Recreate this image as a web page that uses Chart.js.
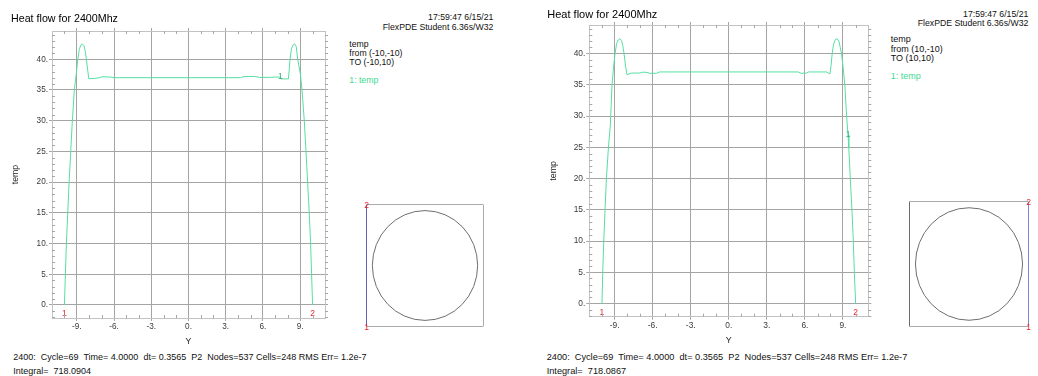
<!DOCTYPE html>
<html>
<head>
<meta charset="utf-8">
<title>Heat flow for 2400Mhz</title>
<script src="https://cdn.jsdelivr.net/npm/chart.js@4.4.1/dist/chart.umd.min.js"></script>
<style>
  html, body { margin: 0; padding: 0; background: #fff; }
  body { position: relative; width: 1038px; height: 376px; overflow: hidden;
         font-family: "Liberation Sans", Arial, sans-serif; color: #111; }
  .txt { position: absolute; white-space: pre; line-height: 1; }
  canvas { position: absolute; }
</style>
</head>
<body>
<canvas id="plotA" width="340" height="352" style="left:0px;top:0px"></canvas>
<canvas id="shapeA" width="138" height="144" style="left:356px;top:194px"></canvas>
<canvas id="plotB" width="340" height="352" style="left:537px;top:0px"></canvas>
<canvas id="shapeB" width="140" height="144" style="left:899px;top:191px"></canvas>

<!-- left plot: cut along x = -10 -->
<div class="txt" style="left:11px;top:12.9px;font-size:10.7px;color:#000">Heat flow for 2400Mhz</div>
<div class="txt" style="right:544.7px;top:12.6px;font-size:8.7px">17:59:47 6/15/21</div>
<div class="txt" style="right:544.7px;top:22.6px;font-size:8.7px">FlexPDE Student 6.36s/W32</div>
<div class="txt" style="left:349.3px;top:39.6px;font-size:8.7px">temp</div>
<div class="txt" style="left:349.3px;top:48.6px;font-size:8.7px">from (-10,-10)</div>
<div class="txt" style="left:349.3px;top:57.9px;font-size:8.7px">TO (-10,10)</div>
<div class="txt" style="left:349.3px;top:75.9px;font-size:8.7px;color:#3fd993">1: temp</div>
<div class="txt" style="left:13.3px;top:353.4px;font-size:9px">2400:  Cycle=69  Time= 4.0000  dt= 0.3565  P2  Nodes=537 Cells=248 RMS Err= 1.2e-7</div>
<div class="txt" style="left:13.3px;top:366.9px;font-size:9px">Integral=  718.0904</div>

<!-- right plot: cut along x = 10 -->
<div class="txt" style="left:547.3px;top:9px;font-size:11px;color:#000">Heat flow for 2400Mhz</div>
<div class="txt" style="right:9.7px;top:9.9px;font-size:8.7px">17:59:47 6/15/21</div>
<div class="txt" style="right:9.7px;top:18.6px;font-size:8.7px">FlexPDE Student 6.36s/W32</div>
<div class="txt" style="left:890.7px;top:35.4px;font-size:9px">temp</div>
<div class="txt" style="left:890.7px;top:44.7px;font-size:9px">from (10,-10)</div>
<div class="txt" style="left:890.7px;top:54.1px;font-size:9px">TO (10,10)</div>
<div class="txt" style="left:890.7px;top:72.4px;font-size:9px;color:#3fd993">1: temp</div>
<div class="txt" style="left:546.7px;top:353.2px;font-size:9.2px">2400:  Cycle=69  Time= 4.0000  dt= 0.3565  P2  Nodes=537 Cells=248 RMS Err= 1.2e-7</div>
<div class="txt" style="left:546.7px;top:366.7px;font-size:9.2px">Integral=  718.0867</div>

<script>
// ---- data -------------------------------------------------------------
// Position along the cut (Y) and temperature for the cut at x = -10
const cutPosA = [-10, -9.92, -9.84, -9.73, -9.62, -9.49, -9.36, -9.2, -9.04, -8.92,
                 -8.8, -8.68, -8.55, -8.42, -8.32, -8.23, -8.12, -8.04, -7.6, -7.2,
                 -6.9, -6.3, -6.0, -3.0, 0, 3.0, 4.2, 4.5, 5.4, 5.7,
                 6.6, 7.0, 7.41, 7.46, 8.05, 8.12, 8.18, 8.3, 8.42, 8.55,
                 8.68, 8.8, 9.01, 9.15, 9.33, 9.47, 9.6, 9.73, 9.84, 9.92, 10];
const tempA   = [0, 5, 10, 15, 20, 25, 30, 35, 37.7, 40,
                 41.6, 42.3, 42.5, 42.2, 41.3, 40, 38.2, 36.85, 36.85, 37.0,
                 37.15, 37.1, 37.0, 37.0, 37.0, 37.0, 37.0, 37.2, 37.2, 37.05,
                 37.05, 37.1, 37.1, 36.8, 36.8, 38.3, 40, 41.7, 42.3, 42.5,
                 42.1, 40, 37.7, 35, 30, 25, 20, 15, 10, 5, 0];

// Position along the cut (Y) and temperature for the cut at x = 10
const cutPosB = [-10, -9.94, -9.86, -9.76, -9.65, -9.49, -9.34, -9.21, -9.08, -8.97,
                 -8.85, -8.72, -8.58, -8.45, -8.35, -8.26, -8.14, -8.03, -7.68, -7.0,
                 -6.76, -6.45, -6.24, -5.7, -5.45, 0, 5.47, 5.7, 6.13, 6.3,
                 7.71, 7.97, 8.06, 8.15, 8.27, 8.41, 8.55, 8.68, 8.79, 8.89,
                 9.02, 9.15, 9.29, 9.4, 9.46, 9.58, 9.71, 9.82, 9.9, 10];
const tempB   = [0, 5, 10, 15, 20, 25, 28.6, 35, 38.0, 40,
                 41.6, 42.2, 42.4, 42.1, 41.2, 40, 38.0, 36.65, 36.9, 36.9,
                 37.05, 37.0, 36.86, 36.86, 37.08, 37.08, 37.08, 36.86, 36.9, 37.08,
                 37.08, 36.76, 38.0, 40, 41.6, 42.3, 42.4, 42.0, 41.0, 40,
                 37.7, 35, 30, 27, 25, 20, 15, 10, 5, 0];

// Axis ticks and ranges
const xTicks = [-9, -6, -3, 0, 3, 6, 9];
const yTicks = [0, 5, 10, 15, 20, 25, 30, 35, 40];
const xRange = [-11, 11];
const yRange = [-2.12, 44.6];

// Domain outline (square box with a circular hole) and the two cut lines
const boxX = [-10, 10, 10, -10, -10];
const boxY = [-10, -10, 10, 10, -10];
const holeRadius = 9;
const cutLineAX = [-10, -10];
const cutLineBX = [10, 10];
const cutLineY  = [-10, 10];

// ---- styling ----------------------------------------------------------
const FONT = '"Liberation Sans", Arial, sans-serif';
Chart.defaults.font.family = FONT;
const GREEN = '#55dfa2';
const TAG_GREEN = '#36b07a';
const GRID = '#a4a4a4';
const FRAME = '#c2c2c2';
const MINOR = '#a6a6a6';
const RED = '#e8262b';
const BLUE = '#5a5aff';

// small inward tick marks at every unit along the frame
const minorTicks = {
  id: 'minorTicks',
  afterDraw(chart) {
    const { ctx, chartArea: a, scales: { x, y } } = chart;
    ctx.save();
    ctx.strokeStyle = MINOR;
    ctx.lineWidth = 1;
    ctx.beginPath();
    for (let v = Math.ceil(x.min) + 1; v < x.max; v++) {
      if (xTicks.includes(v)) continue;
      const px = Math.round(x.getPixelForValue(v)) + 0.5;
      ctx.moveTo(px, a.top); ctx.lineTo(px, a.top + 3);
      ctx.moveTo(px, a.bottom); ctx.lineTo(px, a.bottom - 3);
    }
    for (let v = Math.ceil(y.min); v < y.max; v++) {
      if (yTicks.includes(v)) continue;
      const py = Math.round(y.getPixelForValue(v)) + 0.5;
      ctx.moveTo(a.left, py); ctx.lineTo(a.left + 3, py);
      ctx.moveTo(a.right, py); ctx.lineTo(a.right + 3, py);
    }
    ctx.stroke();
    ctx.restore();
  }
};

// red start/end numbers under the curve ends, and the curve's own "1" tag
const pathMarks = {
  id: 'pathMarks',
  afterDatasetsDraw(chart, args, opts) {
    const { ctx, scales: { x, y } } = chart;
    const pts = chart.data.datasets[0].data;
    const first = pts[0], last = pts[pts.length - 1];
    const base = y.getPixelForValue(0) + 9;
    ctx.save();
    ctx.font = opts.size + 'px ' + FONT;
    ctx.textAlign = 'center';
    ctx.textBaseline = 'middle';
    ctx.fillStyle = RED;
    ctx.fillText('1', x.getPixelForValue(first.x), base);
    ctx.fillText('2', x.getPixelForValue(last.x), base);
    const tag = pts[opts.tagIndex];
    ctx.fillStyle = TAG_GREEN;
    ctx.fillText('1', x.getPixelForValue(tag.x), y.getPixelForValue(tag.y));
    ctx.restore();
  }
};

function makePlot(p) {
  const cv = document.getElementById(p.canvasId);
  const W = cv.width, H = cv.height;
  const a = p.area;
  const pts = p.pos.map((v, i) => ({ x: v, y: p.temp[i] }));
  const tickFont = { size: p.tickSize };
  const setX = s => { s.ticks = xTicks.map(v => ({ value: v })); };
  const setY = s => { s.ticks = yTicks.map(v => ({ value: v })); };
  const label = v => v + '.';

  new Chart(cv, {
    type: 'scatter',
    data: {
      datasets: [{
        label: 'temp', data: pts, showLine: true, borderColor: GREEN,
        borderWidth: 1, pointRadius: 0, tension: 0, fill: false
      }]
    },
    options: {
      responsive: false, animation: false, devicePixelRatio: 1, events: [],
      layout: { padding: 0 },
      plugins: {
        legend: { display: false }, tooltip: { enabled: false },
        pathMarks: { size: 8.5, tagIndex: p.tagIndex }
      },
      scales: {
        x: {
          type: 'linear', position: 'bottom', min: xRange[0], max: xRange[1],
          afterBuildTicks: setX,
          afterFit: s => { s.height = H - a.b; },
          grid: { color: GRID, tickLength: 3, lineWidth: 1 },
          border: { color: FRAME },
          ticks: { font: tickFont, color: '#3a3a3a', padding: 1, autoSkip: false,
                   maxRotation: 0, callback: label },
          title: { display: true, text: 'Y', color: '#222', font: { size: p.axisTitleSize },
                   padding: { top: 0, bottom: p.xTitlePad } }
        },
        x2: {
          type: 'linear', position: 'top', min: xRange[0], max: xRange[1],
          afterBuildTicks: setX,
          afterFit: s => { s.height = a.t; },
          grid: { color: GRID, tickLength: 3, drawOnChartArea: false },
          border: { color: FRAME },
          ticks: { display: false }
        },
        y: {
          type: 'linear', position: 'left', min: yRange[0], max: yRange[1],
          afterBuildTicks: setY,
          afterFit: s => { s.width = a.l; },
          grid: { color: GRID, tickLength: 3, lineWidth: 1 },
          border: { color: FRAME },
          ticks: { font: tickFont, color: '#3a3a3a', padding: 1, autoSkip: false, callback: label },
          title: { display: true, text: 'temp', color: '#222', font: { size: p.axisTitleSize },
                   padding: { top: p.yTitlePad, bottom: 0 } }
        },
        y2: {
          type: 'linear', position: 'right', min: yRange[0], max: yRange[1],
          afterBuildTicks: setY,
          afterFit: s => { s.width = W - a.r; },
          grid: { color: GRID, tickLength: 3, drawOnChartArea: false },
          border: { color: FRAME },
          ticks: { display: false }
        }
      }
    },
    plugins: [minorTicks, pathMarks]
  });
}

// circular hole of the domain
const holeOutline = {
  id: 'holeOutline',
  beforeDatasetsDraw(chart) {
    const { ctx, scales: { x, y } } = chart;
    const cx = x.getPixelForValue(0), cy = y.getPixelForValue(0);
    const rx = x.getPixelForValue(holeRadius) - cx;
    const ry = cy - y.getPixelForValue(holeRadius);
    ctx.save();
    ctx.strokeStyle = '#6e6e6e';
    ctx.lineWidth = 1;
    ctx.beginPath();
    ctx.ellipse(cx, cy, rx, ry, 0, 0, Math.PI * 2);
    ctx.stroke();
    ctx.restore();
  }
};

// red numbers at the start and end of the cut line
const cutEnds = {
  id: 'cutEnds',
  afterDatasetsDraw(chart) {
    const { ctx, scales: { x, y } } = chart;
    const pts = chart.data.datasets[0].data;
    const s = pts[0], e = pts[pts.length - 1];
    ctx.save();
    ctx.font = '8.5px ' + FONT;
    ctx.textAlign = 'center';
    ctx.textBaseline = 'middle';
    ctx.fillStyle = RED;
    ctx.fillText('1', x.getPixelForValue(s.x), y.getPixelForValue(s.y) + 1.5);
    ctx.fillText('2', x.getPixelForValue(e.x), y.getPixelForValue(e.y) + 1.5);
    ctx.restore();
  }
};

function makeShape(q) {
  const cv = document.getElementById(q.canvasId);
  new Chart(cv, {
    type: 'scatter',
    data: {
      datasets: [
        { data: q.lineX.map((v, i) => ({ x: v, y: cutLineY[i] })), showLine: true,
          borderColor: BLUE, borderWidth: 1, pointRadius: 0 },
        { data: boxX.map((v, i) => ({ x: v, y: boxY[i] })), showLine: true,
          borderColor: '#585858', borderWidth: 1, pointRadius: 0 }
      ]
    },
    options: {
      responsive: false, animation: false, devicePixelRatio: 1, events: [],
      layout: { padding: q.pad },
      plugins: { legend: { display: false }, tooltip: { enabled: false } },
      scales: {
        x: { type: 'linear', display: false, min: -10, max: 10 },
        y: { type: 'linear', display: false, min: -10, max: 10 }
      }
    },
    plugins: [holeOutline, cutEnds]
  });
}

makePlot({ canvasId: 'plotA', pos: cutPosA, temp: tempA, tagIndex: 32,
           area: { l: 52, t: 31, r: 325, b: 318 },
           tickSize: 8.2, axisTitleSize: 8.7, yTitlePad: 10.8, xTitlePad: 5.1 });
makePlot({ canvasId: 'plotB', pos: cutPosB, temp: tempB, tagIndex: 43,
           area: { l: 52.3, t: 25, r: 331.3, b: 316.7 },
           tickSize: 8.4, axisTitleSize: 8.9, yTitlePad: 11.1, xTitlePad: 6.1 });

makeShape({ canvasId: 'shapeA', lineX: cutLineAX,
            pad: { left: 10.5, right: 10.5, top: 10.5, bottom: 11.5 } });
makeShape({ canvasId: 'shapeB', lineX: cutLineBX,
            pad: { left: 10.5, right: 10.5, top: 10.5, bottom: 8.5 } });
</script>
</body>
</html>
